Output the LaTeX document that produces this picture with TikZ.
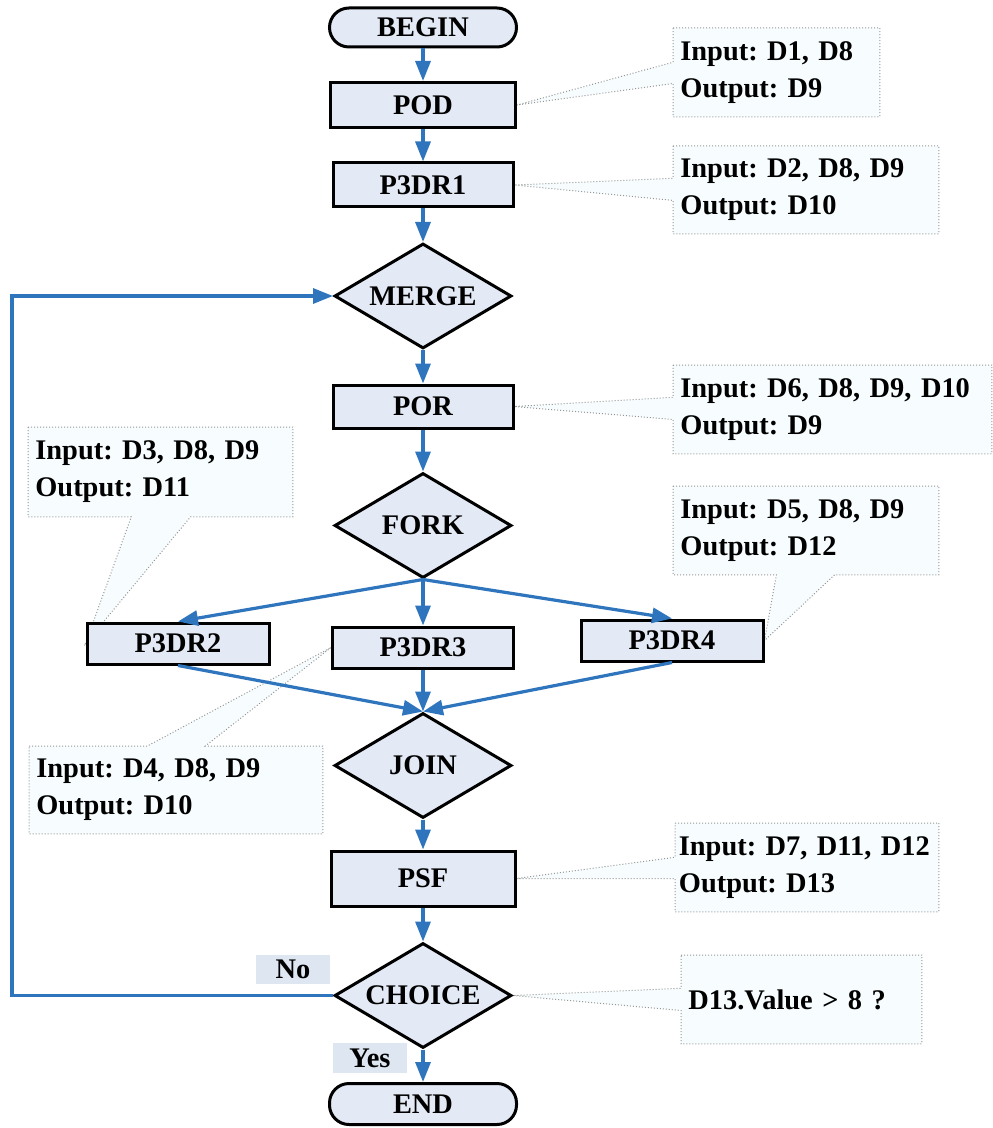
\documentclass[tikz,border=0pt]{standalone}
\usepackage{fontspec}
\setmainfont{Liberation Serif}
\usetikzlibrary{shapes.geometric, arrows.meta, calc, backgrounds}
\definecolor{flowblue}{RGB}{46,117,189}
\definecolor{boxfill}{RGB}{228,234,245}
\definecolor{tagfill}{RGB}{222,230,242}
\definecolor{notefill}{RGB}{247,253,254}
\definecolor{notedraw}{RGB}{150,150,150}
\frenchspacing

\begin{document}
\begin{tikzpicture}[x=0.5pt, y=-0.5pt,
  every node/.style={font=\bfseries\fontsize{14.2}{18.5}\selectfont},
  proc/.style={rectangle, draw=black, line width=1.5pt, fill=boxfill, inner sep=0pt},
  term/.style={proc, rounded corners=9.75pt, minimum width=93.5pt, minimum height=19.5pt},
  decision/.style={diamond, draw=black, line width=1.5pt, fill=boxfill, inner sep=0pt,
                   shape aspect=1.686, minimum width=88.5pt, minimum height=52.5pt},
  note/.style 2 args={anchor=north west, inner xsep=3.5pt, inner ysep=0pt, align=left,
                      text width=#1, minimum height=#2},
  callout/.style={draw=notedraw, densely dotted, line width=0.5pt, fill=notefill},
  flow/.style={draw=flowblue, line width=1.6pt, -{Triangle[length=10pt,width=7.5pt]}},
  tag/.style={fill=tagfill, inner sep=0pt, minimum width=37pt, minimum height=15pt}
]
\useasboundingbox (0,0) rectangle (992,1128);

% process chain
\node[term] (begin) at (423,27.5) {BEGIN};
\node[proc, minimum width=92.5pt, minimum height=22.5pt] (pod) at (423,105) {POD};
\node[proc, minimum width=90pt, minimum height=22pt] (p3dr1) at (423,185) {P3DR1};
\node[decision] (merge) at (423,296) {MERGE};
\node[proc, minimum width=90pt, minimum height=21.5pt] (por) at (423,406.5) {POR};
\node[decision] (fork) at (423,525.5) {FORK};
\node[proc, minimum width=91pt, minimum height=20.5pt] (p3dr2) at (178,643.5) {P3DR2};
\node[proc, minimum width=90.5pt, minimum height=20.5pt] (p3dr3) at (423,647.5) {P3DR3};
\node[proc, minimum width=91pt, minimum height=20.5pt] (p3dr4) at (672,640.5) {P3DR4};
\node[decision] (join) at (423,765.5) {JOIN};
\node[proc, minimum width=92pt, minimum height=27.5pt] (psf) at (423,878.5) {PSF};
\node[decision] (choice) at (423,995.5) {CHOICE};
\node[term, minimum height=20.5pt] (end) at (423,1104) {END};

% data notes
\node[note={96pt}{44pt}] (podnote) at (673,28) {Input: D1, D8\\Output: D9};
\node[note={125.5pt}{43.5pt}] (p3dr1note) at (673,146) {Input: D2, D8, D9\\Output: D10};
\node[note={152pt}{44pt}] (pornote) at (673,365) {Input: D6, D8, D9, D10\\Output: D9};
\node[note={125pt}{44.5pt}] (p3dr2note) at (28,427) {Input: D3, D8, D9\\Output: D11};
\node[note={125.5pt}{44pt}] (p3dr4note) at (673,486) {Input: D5, D8, D9\\Output: D12};
\node[note={139.5pt}{43.5pt}] (p3dr3note) at (29,746) {Input: D4, D8, D9\\Output: D10};
\node[note={128pt}{44pt}, inner xsep=1.75pt] (psfnote) at (675,823) {Input: D7, D11, D12\\Output: D13};
\node[note={113pt}{44pt}] (choicenote) at (681,955) {D13.Value > 8 ?};

% branch labels
\node[tag, minimum height=14.5pt] (nolabel) at (293,969.5) {No};
\node[tag] (yeslabel) at (370,1058) {Yes};

% callout balloons behind everything
\begin{scope}[on background layer]
  % pointer on the left side
  \path[callout] (podnote.north west) -- (podnote.north east) -- (podnote.south east)
    -- (podnote.south west) -- ($(podnote.north west)!0.625!(podnote.south west)$)
    -- (pod.east) -- ($(podnote.north west)!0.386!(podnote.south west)$) -- cycle;
  \path[callout] (p3dr1note.north west) -- (p3dr1note.north east) -- (p3dr1note.south east)
    -- (p3dr1note.south west) -- ($(p3dr1note.north west)!0.62!(p3dr1note.south west)$)
    -- (p3dr1.east) -- ($(p3dr1note.north west)!0.368!(p3dr1note.south west)$) -- cycle;
  \path[callout] (pornote.north west) -- (pornote.north east) -- (pornote.south east)
    -- (pornote.south west) -- ($(pornote.north west)!0.614!(pornote.south west)$)
    -- (por.east) -- ($(pornote.north west)!0.364!(pornote.south west)$) -- cycle;
  \path[callout] (psfnote.north west) -- (psfnote.north east) -- (psfnote.south east)
    -- (psfnote.south west) -- ($(psfnote.north west)!0.625!(psfnote.south west)$)
    -- (psf.east) -- ($(psfnote.north west)!0.386!(psfnote.south west)$) -- cycle;
  \path[callout] (choicenote.north west) -- (choicenote.north east) -- (choicenote.south east)
    -- (choicenote.south west) -- ($(choicenote.north west)!0.625!(choicenote.south west)$)
    -- (choice.east) -- ($(choicenote.north west)!0.375!(choicenote.south west)$) -- cycle;
  % pointer on the bottom side
  \path[callout] (p3dr2note.north west) -- (p3dr2note.north east) -- (p3dr2note.south east)
    -- ($(p3dr2note.south west)!0.614!(p3dr2note.south east)$) -- (p3dr2.west)
    -- ($(p3dr2note.south west)!0.39!(p3dr2note.south east)$) -- (p3dr2note.south west) -- cycle;
  \path[callout] (p3dr4note.north west) -- (p3dr4note.north east) -- (p3dr4note.south east)
    -- ($(p3dr4note.south west)!0.608!(p3dr4note.south east)$) -- (p3dr4.east)
    -- ($(p3dr4note.south west)!0.389!(p3dr4note.south east)$) -- (p3dr4note.south west) -- cycle;
  % pointer on the top side
  \path[callout] (p3dr3note.north west) -- ($(p3dr3note.north west)!0.403!(p3dr3note.north east)$)
    -- (p3dr3.west) -- ($(p3dr3note.north west)!0.6!(p3dr3note.north east)$)
    -- (p3dr3note.north east) -- (p3dr3note.south east) -- (p3dr3note.south west) -- cycle;
\end{scope}

% control flow
\draw[flow] (begin.south) -- (pod.north);
\draw[flow] (pod.south) -- (p3dr1.north);
\draw[flow] (p3dr1.south) -- (merge.north);
\draw[flow] (merge.south) -- (por.north);
\draw[flow] (por.south) -- (fork.north);
\draw[flow] (fork.south) -- (p3dr2.north);
\draw[flow] (fork.south) -- (p3dr3.north);
\draw[flow] (fork.south) -- (p3dr4.north);
\draw[flow] (p3dr2.south) -- (join.north);
\draw[flow] (p3dr3.south) -- (join.north);
\draw[flow] (p3dr4.south) -- (join.north);
\draw[flow] (join.south) -- (psf.north);
\draw[flow] (psf.south) -- (choice.north);
\draw[flow] (choice.south) -- (end.north);
\coordinate (loopx) at (12,0);
\draw[flow] (choice.west) -- (choice.west -| loopx) |- (merge.west);
\end{tikzpicture}
\end{document}
